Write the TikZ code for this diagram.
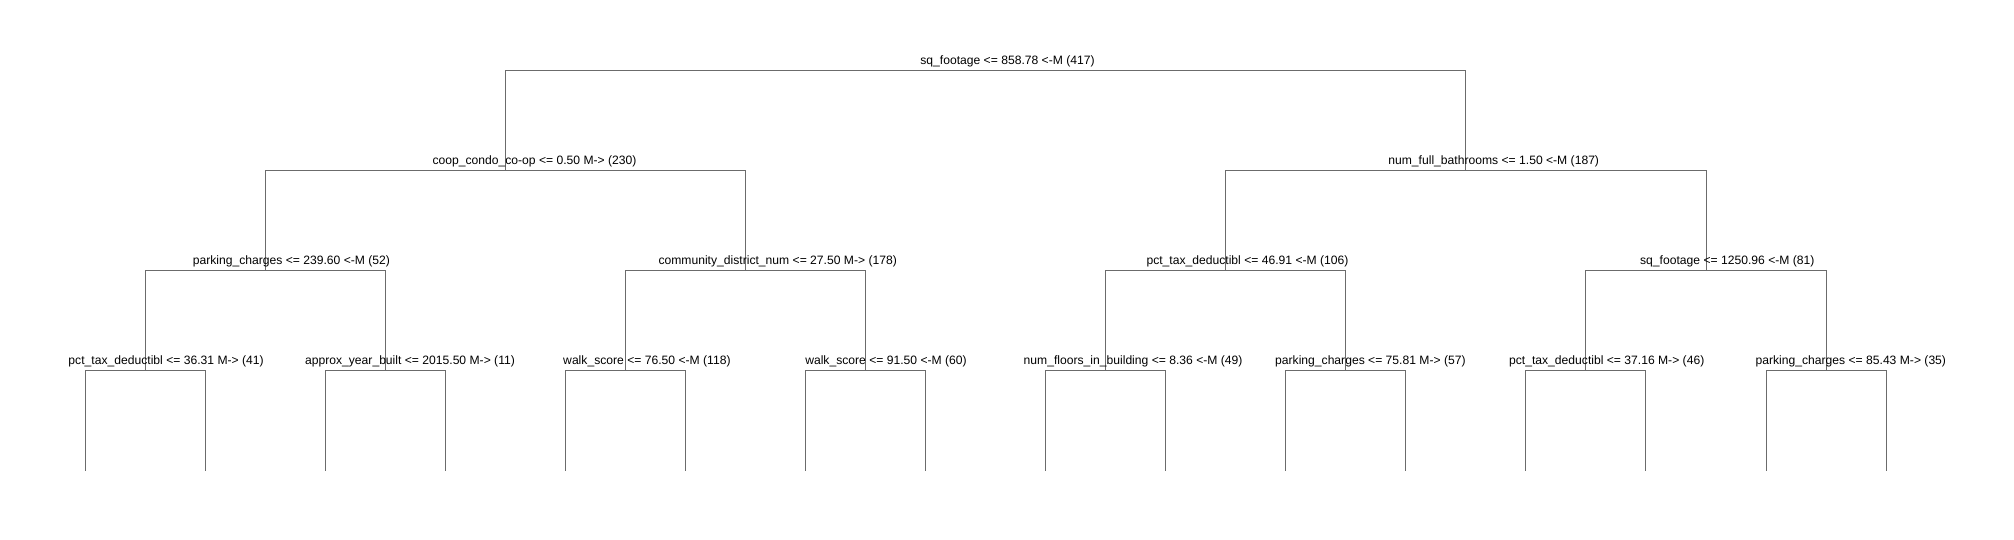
\documentclass[tikz,border=0pt]{standalone}
\usepackage{fontspec}
\setmainfont{Liberation Sans}
\definecolor{treegray}{gray}{0.42}
\begin{document}
\begin{tikzpicture}[x=1pt,y=-1pt,
  edge/.style={draw=treegray,line width=1pt},
  lbl/.style={anchor=base,inner sep=0pt,font=\fontsize{12.13}{14}\selectfont,text=black}]
\useasboundingbox (0,0) rectangle (2014,540);
\fill[white] (0,0) rectangle (2014,540);
% split points
\coordinate (r) at (985.7,70.3);
\coordinate (a) at (505.5,170.3);
\coordinate (b) at (1465.9,170.3);
\coordinate (aa) at (265.4,270.3);
\coordinate (ab) at (745.6,270.3);
\coordinate (ba) at (1225.8,270.3);
\coordinate (bb) at (1706.0,270.3);
\coordinate (aaa) at (145.3,370.3);
\coordinate (aab) at (385.4,370.3);
\coordinate (aba) at (625.5,370.3);
\coordinate (abb) at (865.6,370.3);
\coordinate (baa) at (1105.7,370.3);
\coordinate (bab) at (1345.8,370.3);
\coordinate (bba) at (1585.9,370.3);
\coordinate (bbb) at (1826.0,370.3);
% leaves
\foreach \n/\x in {aaa/145.3,aab/385.4,aba/625.5,abb/865.6,baa/1105.7,bab/1345.8,bba/1585.9,bbb/1826.0}{
  \coordinate (\n L) at (\x-60,470.7);
  \coordinate (\n R) at (\x+60,470.7);
}
% edges
\foreach \p/\c in {r/a,r/b,a/aa,a/ab,b/ba,b/bb,aa/aaa,aa/aab,ab/aba,ab/abb,ba/baa,ba/bab,bb/bba,bb/bbb}{
  \draw[edge] (\p) -| (\c);
}
\foreach \n in {aaa,aab,aba,abb,baa,bab,bba,bbb}{
  \draw[edge] (\n) -| (\n L);
  \draw[edge] (\n) -| (\n R);
}
% labels
\node[lbl] (tr) at (1007.5,64.8) {sq\_footage <= 858.78 <-M (417)};
\node[lbl] (ta) at (534.5,164.8) {coop\_condo\_co-op <= 0.50 M-> (230)};
\node[lbl] (tb) at (1493.7,164.8) {num\_full\_bathrooms <= 1.50 <-M (187)};
\node[lbl] (taa) at (291.4,264.8) {parking\_charges <= 239.60 <-M (52)};
\node[lbl] (tab) at (777.7,264.8) {community\_district\_num <= 27.50 M-> (178)};
\node[lbl] (tba) at (1247.5,264.8) {pct\_tax\_deductibl <= 46.91 <-M (106)};
\node[lbl] (tbb) at (1727.3,264.8) {sq\_footage <= 1250.96 <-M (81)};
\node[lbl] (taaa) at (166.1,364.8) {pct\_tax\_deductibl <= 36.31 M-> (41)};
\node[lbl] (taab) at (410.0,364.8) {approx\_year\_built <= 2015.50 M-> (11)};
\node[lbl] (taba) at (646.9,364.8) {walk\_score <= 76.50 <-M (118)};
\node[lbl] (tabb) at (886.0,364.8) {walk\_score <= 91.50 <-M (60)};
\node[lbl] (tbaa) at (1133.1,364.8) {num\_floors\_in\_building <= 8.36 <-M (49)};
\node[lbl] (tbab) at (1370.4,364.8) {parking\_charges <= 75.81 M-> (57)};
\node[lbl] (tbba) at (1606.7,364.8) {pct\_tax\_deductibl <= 37.16 M-> (46)};
\node[lbl] (tbbb) at (1850.8,364.8) {parking\_charges <= 85.43 M-> (35)};
\end{tikzpicture}
\end{document}
